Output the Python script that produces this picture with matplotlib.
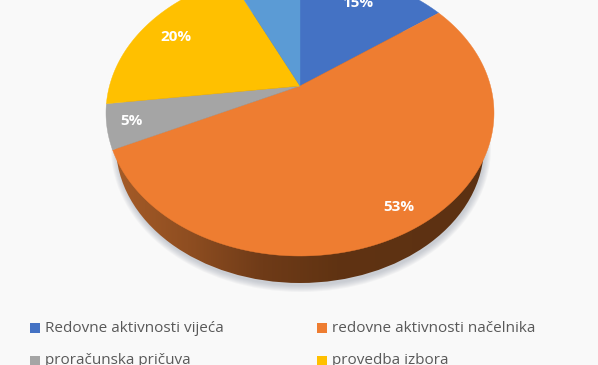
import numpy as np
import matplotlib
matplotlib.use("Agg")
import matplotlib.pyplot as plt
from matplotlib.patches import Ellipse
from matplotlib.colors import LinearSegmentedColormap

values = [15, 53, 5, 20, 7]
colors = ["#4472C4", "#EE7D31", "#A5A5A5", "#FFC000", "#5B9BD5"]
label_radius = [0.757, 0.877, 0.878, 0.794, None]
legend_names = ["Redovne aktivnosti vijeća", "redovne aktivnosti načelnika",
                "proračunska pričuva", "provedba izbora"]

BG = "#F9F9F9"
W, H = 598, 365
CX, CY, RX, RY = 300.0, 113.0, 194.0, 143.0   # top face outline on screen
K = 0.189                                     # perspective shift of the pie centre

fig = plt.figure(figsize=(W / 100, H / 100), dpi=100, facecolor=BG)
ax = fig.add_axes([0, 0, 1, 1])
ax.set_xlim(0, W)
ax.set_ylim(H, 0)
ax.axis("off")


def project(theta, r=1.0):
    """Clockwise angle from north on the unit disc -> tilted screen position."""
    u, v = r * np.sin(theta), r * np.cos(theta)
    d = 1 + K * v
    X = u * np.sqrt(1 - K ** 2) / d
    Y = (v + K) / d
    return CX + RX * X, CY - RY * Y


# soft drop shadow, tight under the wall
for i in range(7):
    grow = 7 - i
    ax.add_patch(Ellipse((CX + 1, 148), 2 * (183 + grow), 2 * (137 + grow),
                         fc="#8C93A3", ec="none", alpha=0.07, zorder=1))

# side wall: gradient clipped to the lower ellipse
wall_cmap = LinearSegmentedColormap.from_list(
    "wall", ["#A65C28", "#8F4E21", "#6F3B18", "#603312", "#5E3213", "#5C3112"])
wall = Ellipse((CX, 146), 2 * 184, 2 * 137, fc="none", ec="none", zorder=2)
ax.add_patch(wall)
im = ax.imshow(np.linspace(0, 1, 256).reshape(1, -1), cmap=wall_cmap, aspect="auto",
               extent=[112, 488, 283, 0], zorder=2)
im.set_clip_path(wall)
ax.set_xlim(0, W)
ax.set_ylim(H, 0)

# top face
fractions = np.array(values, dtype=float) / np.sum(values)
edges = np.concatenate([[0], np.cumsum(fractions)]) * 2 * np.pi
for a, b, col in zip(edges[:-1], edges[1:], colors):
    t = np.linspace(a, b, 200)
    x, y = project(t)
    ax.fill(np.r_[CX, x], np.r_[CY - RY * K, y], color=col, lw=0.3, zorder=3)

# value labels
for a, b, val, rad in zip(edges[:-1], edges[1:], values, label_radius):
    if rad is None:
        continue
    x, y = project((a + b) / 2, rad)
    ax.text(x, y, f"{val}%", color="white", family="Open Sans", weight="bold",
            fontsize=11, ha="center", va="center", zorder=4)

# legend
cols = [(30, 45), (317, 332)]
rows = [328, 360.5]
for i, (name, col) in enumerate(zip(legend_names, colors)):
    mx, tx = cols[i % 2]
    y = rows[i // 2]
    ax.add_patch(plt.Rectangle((mx, y - 5), 10, 10, fc=col, ec="none", zorder=3))
    ax.text(tx, y, name, color="#595959", family="Open Sans", fontsize=11,
            ha="left", va="center", zorder=3)

fig.savefig("out.png", dpi=100, facecolor=BG)
